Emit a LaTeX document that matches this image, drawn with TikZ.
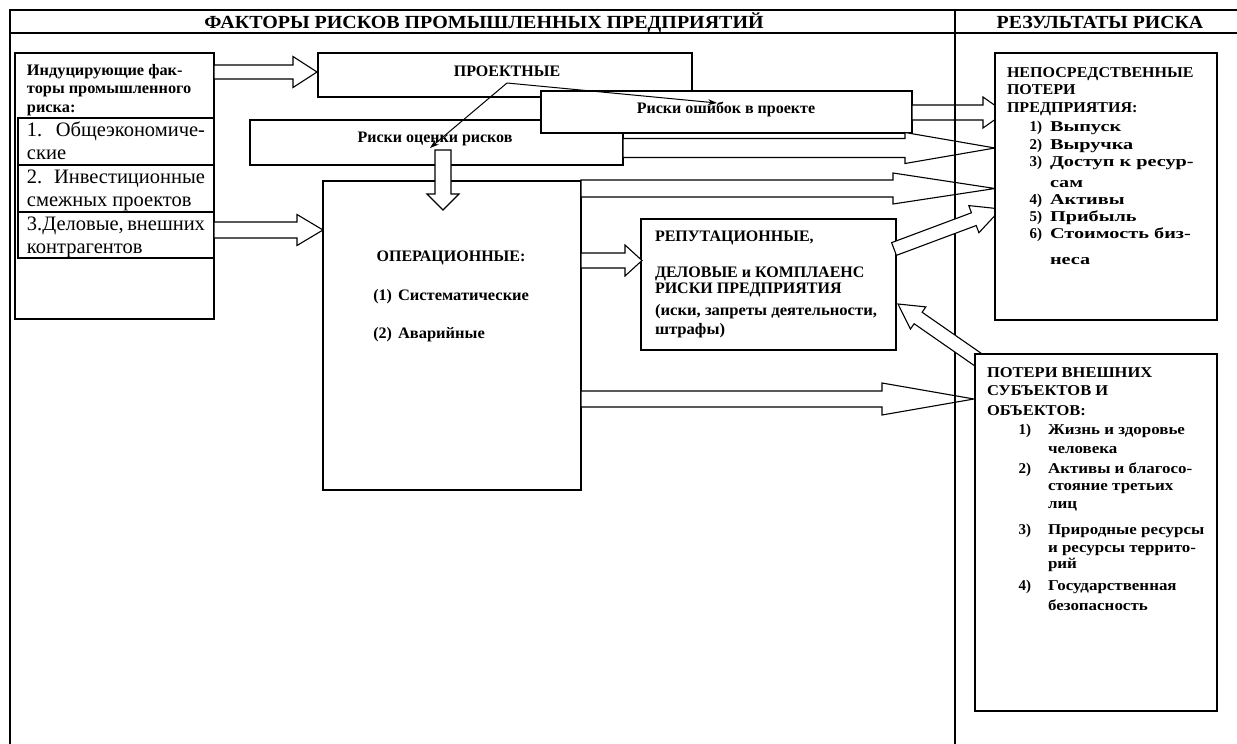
\documentclass[tikz,border=0pt]{standalone}
\usepackage{fontspec}
\setmainfont{Liberation Serif}
\usetikzlibrary{calc,arrows.meta}
\newcommand{\hx}[2]{\scalebox{#1}[1]{#2}}
\newcommand{\blockarr}[5]{% start, tip, half shaft, half head, head length
  \coordinate (ba-h) at ($(#2)!#5pt!(#1)$);
  \draw[blockarrow] ($(#1)!#3pt!90:(#2)$) -- ($(ba-h)!#3pt!90:(#2)$) -- ($(ba-h)!#4pt!90:(#2)$) -- (#2)
    -- ($(ba-h)!#4pt!-90:(#2)$) -- ($(ba-h)!#3pt!-90:(#2)$) -- ($(#1)!#3pt!-90:(#2)$) -- cycle;
}
\tikzset{
  frame/.style={line width=1.3pt},
  box/.style={draw, fill=white, line width=1.3pt, inner sep=0pt, outer sep=0pt, anchor=north west},
  blockarrow/.style={draw, fill=white, line width=1.1pt, line join=miter},
  thinarrow/.style={line width=1pt, -{Stealth[length=9pt,width=6pt]}},
  tt/.style={inner sep=0pt, outer sep=0pt, anchor=base west},
  hdr/.style={tt, anchor=base, font=\bfseries\fontsize{18.5}{20}\selectfont},
  tb/.style={tt, font=\bfseries\fontsize{16}{18}\selectfont},
  tr/.style={tt, font=\fontsize{20.5}{22}\selectfont},
  tl/.style={tt, font=\bfseries\fontsize{15}{17}\selectfont},
  tn/.style={tt, anchor=base east, font=\bfseries\fontsize{15}{17}\selectfont},
}
\begin{document}
\begin{tikzpicture}[x=1pt,y=-1pt]
\useasboundingbox (0,0) rectangle (1237,744);
% table frame
\draw[frame] (10,744) -- (10,10) -- (1237,10);
\draw[frame] (10,33) -- (1237,33);
\node[hdr] (hL) at (484,28) {\hx{1.08}{ФАКТОРЫ РИСКОВ ПРОМЫШЛЕННЫХ ПРЕДПРИЯТИЙ}};
\node[hdr] (hR) at (1100,28) {\hx{1.07}{РЕЗУЛЬТАТЫ РИСКА}};

% inducing factors
\node[box, minimum width=199pt, minimum height=266pt] (ind) at (15,53) {};
\node[box, minimum width=196pt, minimum height=47pt] (r1) at (18,118) {};
\node[box, minimum width=196pt, minimum height=47pt] (r2) at (18,165) {};
\node[box, minimum width=196pt, minimum height=46pt] (r3) at (18,212) {};
\node[tb] (i1) at (27,75) {\hx{1.02}{Индуцирующие фак-}};
\node[tb] (i2) at (27,93.5) {\hx{1.02}{торы промышленного}};
\node[tb] (i3) at (27,112) {\hx{1.02}{риска:}};
\node[tr] (r1a) at (27,136) {\makebox[178pt][l]{1.\hfill Общеэкономиче-}};
\node[tr] (r1b) at (27,159) {ские};
\node[tr] (r2a) at (27,183) {\makebox[178pt][l]{2.\hfill Инвестиционные}};
\node[tr] (r2b) at (27,206) {смежных проектов};
\node[tr] (r3a) at (27,230) {\makebox[178pt][l]{3.Деловые,\hfill внешних}};
\node[tr] (r3b) at (27,253) {контрагентов};

% project boxes
\node[box, minimum width=374pt, minimum height=44pt] (proj) at (318,53) {};
\node[tb, anchor=base] (projt) at (507,76) {ПРОЕКТНЫЕ};
\node[box, minimum width=373pt, minimum height=45pt] (ocen) at (250,120) {};
\node[tb, anchor=base] (ocent) at (435,142) {Риски оценки рисков};
\node[box, minimum width=371pt, minimum height=42pt] (err) at (541,91) {};
\node[tb, anchor=base] (errt) at (726,113) {Риски ошибок в проекте};

% operational
\node[box, minimum width=258pt, minimum height=309pt] (oper) at (323,181) {};
\node[tb, anchor=base] (opert) at (451,261) {ОПЕРАЦИОННЫЕ:};
\node[tb, anchor=base east] (o1n) at (392,300) {(1)};
\node[tb] (o1) at (398,300) {\hx{1.03}{Систематические}};
\node[tb, anchor=base east] (o2n) at (392,338) {(2)};
\node[tb] (o2) at (398,338) {\hx{1.03}{Аварийные}};

% down block arrow
\coordinate (d1s) at (443,150); \coordinate (d1e) at (443,210);
\blockarr{d1s}{d1e}{8}{16}{16}

% reputational
\node[box, minimum width=255pt, minimum height=131pt] (reput) at (641,219) {};
\node[tb] (rp1) at (655,241) {РЕПУТАЦИОННЫЕ,};
\node[tb] (rp2) at (655,277) {ДЕЛОВЫЕ  и КОМПЛАЕНС};
\node[tb] (rp3) at (655,293) {РИСКИ ПРЕДПРИЯТИЯ};
\node[tb] (rp4) at (655,315) {\hx{1.04}{(иски, запреты деятельности,}};
\node[tb] (rp5) at (655,334) {\hx{1.04}{штрафы)}};

% horizontal block arrows
\coordinate (a1s) at (214,72);    \coordinate (a1e) at (317,72);
\blockarr{a1s}{a1e}{7}{15.5}{24}
\coordinate (a2s) at (214,230);   \coordinate (a2e) at (323,230);
\blockarr{a2s}{a2e}{8}{15.5}{26}
\coordinate (a3s) at (581,260.5); \coordinate (a3e) at (642,260.5);
\blockarr{a3s}{a3e}{7.5}{15.5}{17}
\coordinate (a4s) at (912,112.5); \coordinate (a4e) at (1005,112.5);
\blockarr{a4s}{a4e}{7.5}{15.5}{22}
\coordinate (a5s) at (623,148);   \coordinate (a5e) at (995,148);
\blockarr{a5s}{a5e}{9.5}{15.5}{90}
\coordinate (a6s) at (581,188.5); \coordinate (a6e) at (995,188.5);
\blockarr{a6s}{a6e}{8.5}{15.5}{102}
\coordinate (a7s) at (581,399);   \coordinate (a7e) at (974,399);
\blockarr{a7s}{a7e}{8}{16}{92}

% divider
\draw[frame] (955,10) -- (955,744);

% diagonal block arrows
\coordinate (g1s) at (894,249);   \coordinate (g1e) at (1001,209);
\blockarr{g1s}{g1e}{6.8}{14.5}{29}
\coordinate (g2s) at (980,361);   \coordinate (g2e) at (898,304);
\blockarr{g2s}{g2e}{7}{13.5}{24.5}

% results boxes
\node[box, minimum width=222pt, minimum height=267pt] (nep) at (995,53) {};
\node[tl] (n1) at (1007,77) {\hx{1.07}{НЕПОСРЕДСТВЕННЫЕ}};
\node[tl] (n2) at (1007,94) {\hx{1.07}{ПОТЕРИ}};
\node[tl] (n3) at (1007,112) {\hx{1.07}{ПРЕДПРИЯТИЯ:}};
\node[tn] (nn1) at (1042,131) {1)};
\node[tl] (nl1) at (1050,131) {\hx{1.35}{Выпуск}};
\node[tn] (nn2) at (1042,149) {2)};
\node[tl] (nl2) at (1050,149) {\hx{1.35}{Выручка}};
\node[tn] (nn3) at (1042,166) {3)};
\node[tl] (nl3) at (1050,166) {\hx{1.35}{Доступ к ресур-}};
\node[tl] (nl3b) at (1050,187) {\hx{1.35}{сам}};
\node[tn] (nn4) at (1042,204) {4)};
\node[tl] (nl4) at (1050,204) {\hx{1.35}{Активы}};
\node[tn] (nn5) at (1042,221) {5)};
\node[tl] (nl5) at (1050,221) {\hx{1.35}{Прибыль}};
\node[tn] (nn6) at (1042,238) {6)};
\node[tl] (nl6) at (1050,238) {\hx{1.35}{Стоимость биз-}};
\node[tl] (nl6b) at (1050,264) {\hx{1.35}{неса}};

\node[box, minimum width=242pt, minimum height=357pt] (pot) at (975,354) {};
\node[tl] (p1) at (987,377) {\hx{1.1}{ПОТЕРИ ВНЕШНИХ}};
\node[tl] (p2) at (987,395) {\hx{1.1}{СУБЪЕКТОВ И}};
\node[tl] (p3) at (987,415) {\hx{1.1}{ОБЪЕКТОВ:}};
\node[tn] (pn1) at (1031,434) {1)};
\node[tl] (pl1) at (1048,434) {\hx{1.13}{Жизнь и здоровье}};
\node[tl] (pl1b) at (1048,453) {\hx{1.13}{человека}};
\node[tn] (pn2) at (1031,473) {2)};
\node[tl] (pl2) at (1048,473) {\hx{1.13}{Активы и благосо-}};
\node[tl] (pl2b) at (1048,490) {\hx{1.13}{стояние третьих}};
\node[tl] (pl2c) at (1048,508) {\hx{1.13}{лиц}};
\node[tn] (pn3) at (1031,534) {3)};
\node[tl] (pl3) at (1048,534) {\hx{1.13}{Природные ресурсы}};
\node[tl] (pl3b) at (1048,552) {\hx{1.13}{и ресурсы террито-}};
\node[tl] (pl3c) at (1048,568) {\hx{1.13}{рий}};
\node[tn] (pn4) at (1031,590) {4)};
\node[tl] (pl4) at (1048,590) {\hx{1.13}{Государственная}};
\node[tl] (pl4b) at (1048,610) {\hx{1.13}{безопасность}};

% thin arrows
\coordinate (tp) at (507,83);
\coordinate (tq1) at (430,148);
\coordinate (tq2) at (717,103);
\draw[thinarrow] (tp) -- (tq1);
\draw[thinarrow] (tp) -- (tq2);
\end{tikzpicture}
\end{document}
